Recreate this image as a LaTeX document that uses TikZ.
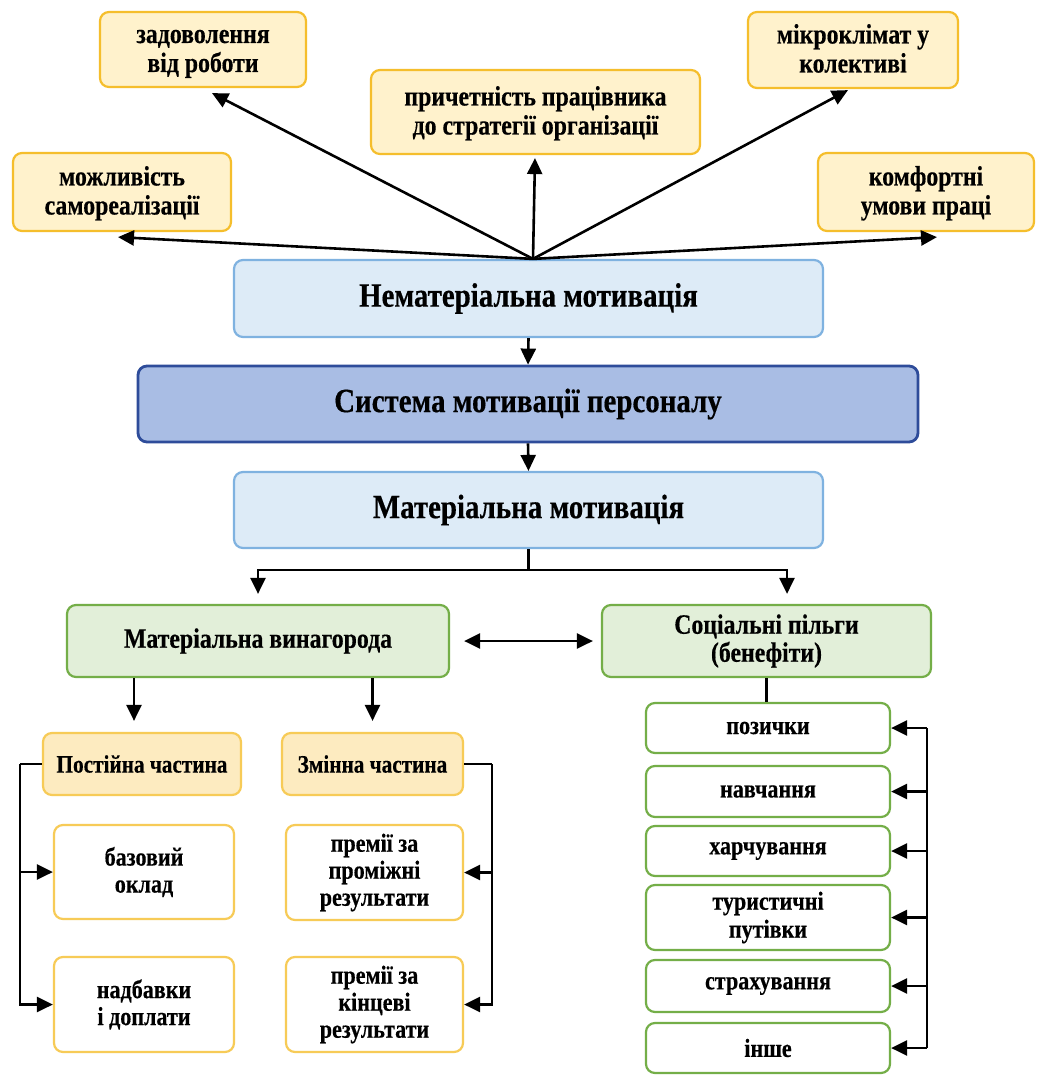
\documentclass[tikz,border=0pt]{standalone}
\usepackage{fontspec}
\setmainfont{Liberation Serif}
\newfontfamily\condfont[FakeStretch=0.85,FakeBold=0.4]{Liberation Serif}
\usetikzlibrary{arrows.meta,calc}
\newcommand\tstr{\rule[-6pt]{0pt}{28pt}}
\definecolor{yfill}{HTML}{FFF2CC}
\definecolor{ydraw}{HTML}{F5BE2C}
\definecolor{bfill}{HTML}{DDEBF7}
\definecolor{bdraw}{HTML}{7FB2E0}
\definecolor{sfill}{HTML}{A9BDE4}
\definecolor{sdraw}{HTML}{2E4C9A}
\definecolor{gfill}{HTML}{E2EFD9}
\definecolor{gdraw}{HTML}{74AE48}
\definecolor{ofill}{HTML}{FDEBC0}
\definecolor{odraw}{HTML}{F7CB57}
\tikzset{
  basebox/.style={rounded corners=9pt, line width=2.2pt, align=center, inner sep=0pt},
  ybox/.style={basebox, fill=yfill, draw=ydraw, font=\condfont\bfseries\fontsize{28}{29}\selectfont},
  bbox/.style={basebox, fill=bfill, draw=bdraw, font=\condfont\bfseries\fontsize{34}{38}\selectfont},
  sysbox/.style={basebox, fill=sfill, draw=sdraw, line width=2.8pt, font=\condfont\bfseries\fontsize{34}{38}\selectfont},
  gbox/.style={basebox, fill=gfill, draw=gdraw, font=\condfont\bfseries\fontsize{28}{28}\selectfont},
  obox/.style={basebox, fill=ofill, draw=odraw, font=\condfont\bfseries\fontsize{25}{27}\selectfont},
  wobox/.style={basebox, fill=white, draw=odraw, font=\condfont\bfseries\fontsize{26}{27}\selectfont},
  wgbox/.style={basebox, fill=white, draw=gdraw, font=\condfont\bfseries\fontsize{26}{28}\selectfont},
  arr/.style={line width=2.6pt, -{Triangle[length=16pt,width=15pt]}},
  arrtwo/.style={line width=2.6pt, {Triangle[length=16pt,width=15pt]}-{Triangle[length=16pt,width=15pt]}},
  ln/.style={line width=2.6pt}
}
\begin{document}
\begin{tikzpicture}[x=1pt,y=-1pt]
\fill[white] (0,0) rectangle (1037,1075);
\useasboundingbox (0,0) rectangle (1037,1075);
% top
\node[ybox, minimum width=206pt, minimum height=75pt] (zad) at (203,49.5) {\tstr задоволення\\від роботи\tstr};
\node[ybox, minimum width=329pt, minimum height=84pt] (prich) at (535.5,112) {\tstr причетність працівника\\до стратегії організації\tstr};
\node[ybox, minimum width=210pt, minimum height=76pt] (mikro) at (853,50) {\tstr мікроклімат у\\колективі\tstr};
\node[ybox, minimum width=218pt, minimum height=78pt] (mozh) at (122,192) {\tstr можливість\\самореалізації\tstr};
\node[ybox, minimum width=216pt, minimum height=78pt] (komf) at (926,192) {\tstr комфортні\\умови праці\tstr};
% middle
\node[bbox, minimum width=589pt, minimum height=77pt] (nemat) at (528.5,298.5) {Нематеріальна мотивація};
\node[sysbox, minimum width=780pt, minimum height=76pt] (sys) at (528,404) {Система мотивації персоналу};
\node[bbox, minimum width=589pt, minimum height=76pt] (mat) at (528.5,510) {Матеріальна мотивація};
% green
\node[gbox, minimum width=382pt, minimum height=72pt] (mv) at (258,641) {Матеріальна винагорода};
\node[gbox, minimum width=329pt, minimum height=72pt] (sp) at (766.5,641) {Соціальні пільги\\(бенефіти)};
% left lower
\node[obox, minimum width=198pt, minimum height=62pt] (post) at (142,764) {Постійна частина};
\node[obox, minimum width=181pt, minimum height=62pt] (zmin) at (372.5,764) {Змінна частина};
\node[wobox, minimum width=180pt, minimum height=94pt] (baz) at (144,872) {базовий\\оклад};
\node[wobox, minimum width=180pt, minimum height=95pt] (nadb) at (144,1004.5) {надбавки\\і доплати};
\node[wobox, minimum width=177pt, minimum height=95pt] (prom) at (374.5,872.5) {премії за\\проміжні\\результати};
\node[wobox, minimum width=177pt, minimum height=95pt] (kinc) at (374.5,1004.5) {премії за\\кінцеві\\результати};
% social
\node[wgbox, minimum width=244pt, minimum height=50pt] (poz) at (768,728) {позички};
\node[wgbox, minimum width=244pt, minimum height=51pt] (navch) at (768,791.5) {навчання};
\node[wgbox, minimum width=244pt, minimum height=50pt] (harch) at (768,851) {харчування};
\node[wgbox, minimum width=244pt, minimum height=65pt] (tur) at (768,917.5) {туристичні\\путівки};
\node[wgbox, minimum width=244pt, minimum height=52pt] (strakh) at (768,986) {страхування};
\node[wgbox, minimum width=244pt, minimum height=50pt] (inshe) at (768,1048) {інше};
% top arrows
\coordinate (hub) at ($(nemat.north)+(4.5,0)$);
\draw[arr] (hub) -- ($(mozh.south)+(-4,5)$);
\draw[arr] (hub) -- ($(zad.south)+(9,5)$);
\draw[arr] (hub) -- ($(prich.south)+(-0.5,3)$);
\draw[arr] (hub) -- ($(mikro.south)+(-5,1)$);
\draw[arr] (hub) -- ($(komf.south)+(11,5)$);
% vertical chain
\draw[arr] (nemat.south) -- (sys.north);
\draw[arr] (sys.south) -- (mat.north);
% split
\draw[ln] (mat.south) -- ++(0,21) coordinate (split);
\draw[arr] (split) -| ([yshift=10pt]mv.north);
\draw[arr] (split) -| ([xshift=20.5pt,yshift=10pt]sp.north);
\draw[arrtwo] ([xshift=14pt]mv.east) -- ([xshift=-8pt]sp.west);
% mv to parts
\draw[arr] ([xshift=-8pt]post.north |- mv.south) -- ([xshift=-8pt,yshift=11pt]post.north);
\draw[arr] (zmin.north |- mv.south) -- ([yshift=11pt]zmin.north);
% left bus
\draw[ln] (post.west) -- ++(-22,0) coordinate (lb);
\draw[arr] (lb) |- (nadb.west);
\draw[arr] (lb |- baz.west) -- (baz.west);
% right bus
\draw[ln] (zmin.east) -- ++(28,0) coordinate (rb);
\draw[arr] (rb) |- (kinc.east);
\draw[arr] (rb |- prom.east) -- (prom.east);
% social
\draw[ln] (sp.south) -- (sp.south |- poz.north);
\coordinate (sb) at ($(poz.east)+(36,0)$);
\draw[ln] (sb) -- (sb |- inshe.east);
\draw[arr] (sb) -- (poz.east);
\draw[arr] (sb |- navch.east) -- (navch.east);
\draw[arr] (sb |- harch.east) -- (harch.east);
\draw[arr] (sb |- tur.east) -- (tur.east);
\draw[arr] (sb |- strakh.east) -- (strakh.east);
\draw[arr] (sb |- inshe.east) -- (inshe.east);
\end{tikzpicture}
\end{document}
